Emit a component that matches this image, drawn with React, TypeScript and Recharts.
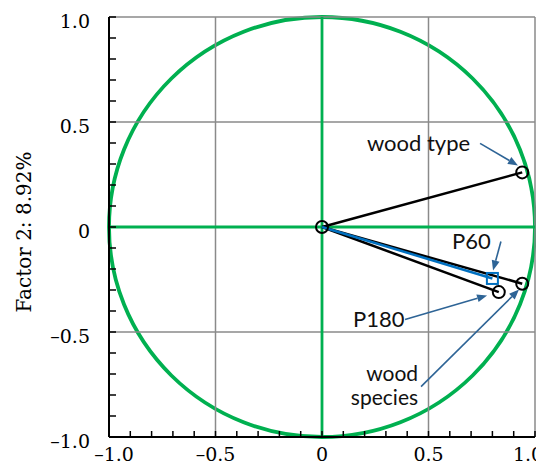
import React from "react";
import {
  ScatterChart,
  Scatter,
  XAxis,
  YAxis,
  ReferenceLine,
  ReferenceArea,
  ReferenceDot,
} from "recharts";

// factor loadings (Factor 1, Factor 2)
const variables = ["wood type", "wood species", "P180", "P60"];
const factor1 = [0.94, 0.94, 0.83, 0.8];
const factor2 = [0.26, -0.27, -0.31, -0.245];

const majorTicks = [-1, -0.5, 0, 0.5, 1];
const minorTicks = [
  -1, -0.9, -0.8, -0.7, -0.6, -0.5, -0.4, -0.3, -0.2, -0.1, 0,
  0.1, 0.2, 0.3, 0.4, 0.5, 0.6, 0.7, 0.8, 0.9, 1,
];
const gridValues = [-0.5, 0.5, 1];

// callout text (lines of each note), placed in factor space
const noteLines = [["wood type"], ["P60"], ["P180"], ["wood", "species"]];
const noteX = [0.211, 0.61, 0.146, 0.451];
const noteY = [0.364, -0.107, -0.474, -0.733];
const noteAnchor = ["start", "start", "start", "end"];

// callout arrows: from label to loading
const arrowFromX = [0.742, 0.84, 0.39, 0.465];
const arrowFromY = [0.398, -0.069, -0.44, -0.76];
const arrowToX = [0.92, 0.803, 0.775, 0.925];
const arrowToY = [0.293, -0.207, -0.326, -0.298];

const GREEN = "#00B050";
const GRID = "#8a8a8a";
const ARROW = "#2E6496";
const BLUE = "#0070C0";

const points = variables.map((name, i) => ({
  name,
  x: factor1[i],
  y: factor2[i],
}));
const origin = [{ name: "origin", x: 0, y: 0 }];

const isMajor = (v: number) => majorTicks.some((m) => Math.abs(m - v) < 1e-6);
const fmt = (v: number) =>
  v === 0 ? "0" : (v < 0 ? "\u2013" : "") + Math.abs(v).toFixed(1);

const serif = "'DejaVu Serif', serif";

// bottom axis: inward minor tick + label on the major ones
const XTick = (p: any) => {
  const v = p.payload.value;
  const axisY = p.y - 11;
  const shift = v === -1 ? 5 : v === 1 ? -7 : 0;
  return (
    <g>
      <line x1={p.x} y1={axisY} x2={p.x} y2={axisY - 6} stroke="#000" strokeWidth={1.5} />
      {isMajor(v) && (
        <text
          x={p.x + shift}
          y={p.y}
          dy="0.71em"
          textAnchor="middle"
          fontFamily={serif}
          fontSize={19}
          fill="#000"
        >
          {fmt(v)}
        </text>
      )}
    </g>
  );
};

// left axis: inward minor tick + label on the major ones
const YTick = (p: any) => {
  const v = p.payload.value;
  const axisX = p.x + 19;
  return (
    <g>
      <line x1={axisX} y1={p.y} x2={axisX + 7} y2={p.y} stroke="#000" strokeWidth={1.5} />
      {isMajor(v) && (
        <text
          x={p.x}
          y={p.y + 4}
          dy="0.355em"
          textAnchor="end"
          fontFamily={serif}
          fontSize={19}
          fill="#000"
        >
          {fmt(v)}
        </text>
      )}
    </g>
  );
};

const UnitCircle = (p: any) => (
  <ellipse
    cx={p.x + p.width / 2}
    cy={p.y + p.height / 2}
    rx={p.width / 2}
    ry={p.height / 2}
    fill="none"
    stroke={GREEN}
    strokeWidth={3.8}
  />
);

const Arrow = (p: any) => {
  const { x1, y1, x2, y2 } = p;
  const a = Math.atan2(y2 - y1, x2 - x1);
  const len = 10;
  const half = 4;
  const bx = x2 - len * Math.cos(a);
  const by = y2 - len * Math.sin(a);
  const nx = -Math.sin(a) * half;
  const ny = Math.cos(a) * half;
  return (
    <g>
      <line x1={x1} y1={y1} x2={bx} y2={by} stroke={ARROW} strokeWidth={1.6} />
      <polygon
        points={`${x2},${y2} ${bx + nx},${by + ny} ${bx - nx},${by - ny}`}
        fill={ARROW}
      />
    </g>
  );
};

const LoadingMarker = (p: any) => {
  if (p.payload?.name === "P60") {
    return (
      <rect
        x={p.cx - 5.5}
        y={p.cy - 5.5}
        width={11}
        height={11}
        fill="none"
        stroke={BLUE}
        strokeWidth={2}
      />
    );
  }
  return <circle cx={p.cx} cy={p.cy} r={6} fill="none" stroke="#000" strokeWidth={2} />;
};

const noteShape = (i: number) => (p: any) => {
  const multi = noteLines[i].length > 1;
  return (
    <text
      x={p.cx}
      y={p.cy}
      textAnchor={noteAnchor[i]}
      fontFamily="Lato, 'Open Sans', sans-serif"
      fontSize={multi ? 21 : 22}
      fill="#111"
    >
      {noteLines[i].map((line, k) => (
        <tspan key={k} x={p.cx} dy={k === 0 ? 0 : 24}>
          {line}
        </tspan>
      ))}
    </text>
  );
};

export default function App() {
  return (
    <div style={{ width: 536, height: 460 }}>
      <ScatterChart width={536} height={460} margin={{ top: 9, right: 9, bottom: 0, left: 0 }}>
        <XAxis
          type="number"
          dataKey="x"
          domain={[-1, 1]}
          ticks={minorTicks}
          interval={0}
          tickLine={false}
          tickSize={0}
          tickMargin={11}
          height={31}
          axisLine={{ stroke: "#000", strokeWidth: 2 }}
          tick={XTick}
        />
        <YAxis
          type="number"
          dataKey="y"
          domain={[-1, 1]}
          ticks={minorTicks}
          interval={0}
          tickLine={false}
          tickSize={0}
          tickMargin={19}
          width={101}
          axisLine={{ stroke: "#000", strokeWidth: 2 }}
          tick={YTick}
          label={{
            content: (p: any) => {
              const vb = p.viewBox;
              const cx = vb.x + 16;
              const cy = vb.y + vb.height / 2 + 5;
              return (
                <text
                  x={cx}
                  y={cy}
                  transform={`rotate(-90, ${cx}, ${cy})`}
                  textAnchor="middle"
                  dominantBaseline="central"
                  fontFamily={serif}
                  fontSize={20}
                  fill="#000"
                >
                  Factor 2: 8.92%
                </text>
              );
            },
          }}
        />

        {gridValues.map((v) => (
          <ReferenceLine key={`gx${v}`} x={v} stroke={GRID} strokeWidth={1.5} />
        ))}
        {gridValues.map((v) => (
          <ReferenceLine key={`gy${v}`} y={v} stroke={GRID} strokeWidth={1.5} />
        ))}

        <ReferenceArea x1={-1} x2={1} y1={-1} y2={1} shape={UnitCircle} />
        <ReferenceLine x={0} stroke={GREEN} strokeWidth={2.8} />
        <ReferenceLine y={0} stroke={GREEN} strokeWidth={2.8} />

        {points.map((pt) => (
          <ReferenceLine
            key={`v-${pt.name}`}
            segment={[
              { x: 0, y: 0 },
              { x: pt.x, y: pt.y },
            ]}
            stroke={pt.name === "P60" ? BLUE : "#000"}
            strokeWidth={2.5}
          />
        ))}

        {arrowFromX.map((_, i) => (
          <ReferenceLine
            key={`a${i}`}
            segment={[
              { x: arrowFromX[i], y: arrowFromY[i] },
              { x: arrowToX[i], y: arrowToY[i] },
            ]}
            shape={Arrow}
          />
        ))}

        <Scatter data={points} shape={LoadingMarker} isAnimationActive={false} />
        <Scatter data={origin} shape={LoadingMarker} isAnimationActive={false} />

        {noteLines.map((_, i) => (
          <ReferenceDot key={`n${i}`} x={noteX[i]} y={noteY[i]} shape={noteShape(i)} />
        ))}
      </ScatterChart>
    </div>
  );
}
